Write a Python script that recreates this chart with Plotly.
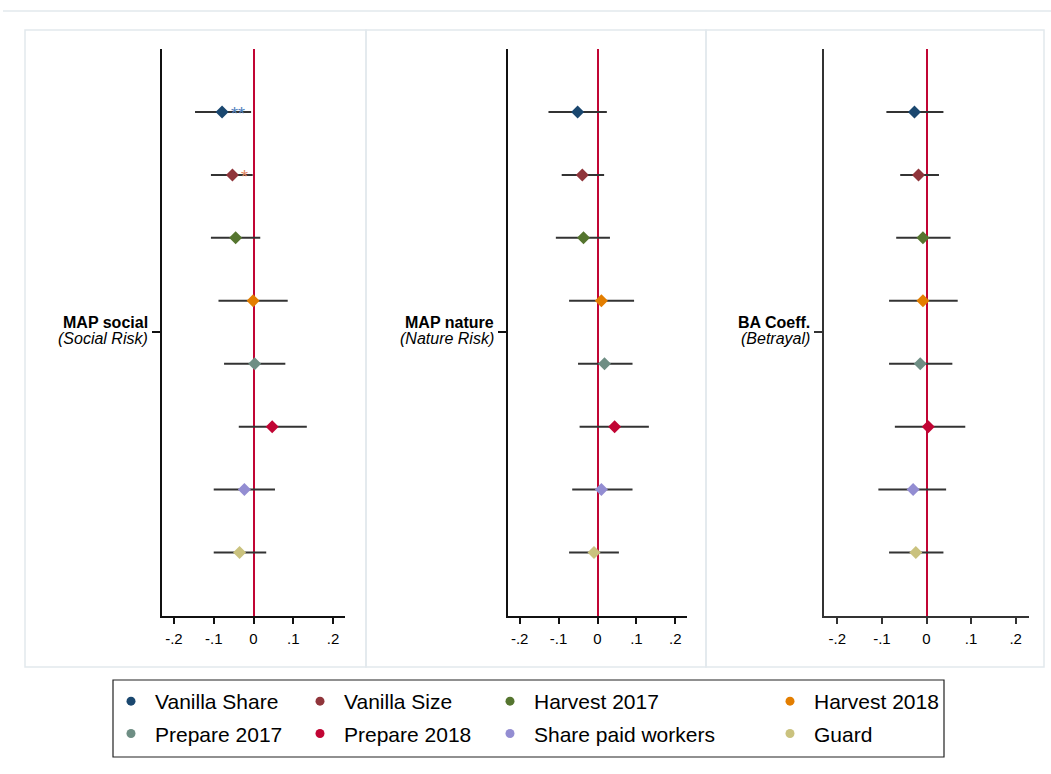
import plotly.graph_objects as go

# Coefficient estimates with 95% confidence bounds, one list per outcome
categories = ["Vanilla Share", "Vanilla Size", "Harvest 2017", "Harvest 2018",
              "Prepare 2017", "Prepare 2018", "Share paid workers", "Guard"]
colors = ["#1a476f", "#90353b", "#55752f", "#e37e00",
          "#6e8e84", "#c10534", "#938dd2", "#cac27e"]
positions = [8, 7, 6, 5, 4, 3, 2, 1]

social_est = [-0.079, -0.053, -0.045, -0.001, 0.003, 0.047, -0.023, -0.035]
social_lo = [-0.147, -0.107, -0.107, -0.088, -0.074, -0.037, -0.100, -0.100]
social_hi = [-0.006, -0.002, 0.017, 0.086, 0.080, 0.134, 0.054, 0.032]
social_stars = ["**", "*", "", "", "", "", "", ""]

nature_est = [-0.051, -0.039, -0.036, 0.010, 0.018, 0.044, 0.010, -0.009]
nature_lo = [-0.126, -0.092, -0.107, -0.073, -0.050, -0.046, -0.065, -0.073]
nature_hi = [0.024, 0.017, 0.032, 0.094, 0.090, 0.132, 0.090, 0.055]

betrayal_est = [-0.027, -0.018, -0.008, -0.008, -0.014, 0.004, -0.030, -0.024]
betrayal_lo = [-0.090, -0.059, -0.068, -0.084, -0.084, -0.071, -0.108, -0.084]
betrayal_hi = [0.038, 0.028, 0.054, 0.070, 0.058, 0.087, 0.044, 0.038]

panel_titles = ["MAP social", "MAP nature", "BA Coeff."]
panel_subtitles = ["(Social Risk)", "(Nature Risk)", "(Betrayal)"]

x_ticks = [-0.2, -0.1, 0, 0.1, 0.2]
x_ticktext = ["-.2", "-.1", "0", ".1", ".2"]

FONT = "Liberation Sans, Arial, sans-serif"
W, H = 1051, 774


def px_x(p):
    return p / W


def px_y(p):
    return 1 - p / H


panels = [
    (social_est, social_lo, social_hi, (162, 345), "#111111"),
    (nature_est, nature_lo, nature_hi, (508, 687), "#111111"),
    (betrayal_est, betrayal_lo, betrayal_hi, (824, 1029), "#333333"),
]

fig = go.Figure()
layout = dict(
    width=W, height=H,
    margin=dict(l=0, r=0, t=0, b=0),
    paper_bgcolor="white", plot_bgcolor="white",
    font=dict(family=FONT, color="black"),
    showlegend=True,
)
annotations = []

for i, (est, lo, hi, (x0, x1), axcol) in enumerate(panels):
    sfx = "" if i == 0 else str(i + 1)
    fig.add_trace(go.Scatter(
        x=est, y=positions, mode="markers",
        marker=dict(symbol="diamond", size=10, color=colors, line=dict(width=0)),
        error_x=dict(type="data", symmetric=False,
                     array=[h - e for h, e in zip(hi, est)],
                     arrayminus=[e - l for e, l in zip(est, lo)],
                     color="#333333", thickness=2, width=0),
        xaxis="x" + sfx, yaxis="y" + sfx, showlegend=False, hoverinfo="skip",
    ))
    layout["xaxis" + sfx] = dict(
        domain=[px_x(x0), px_x(x1)], range=[-0.23, 0.23], anchor="y" + sfx,
        showline=True, linecolor=axcol, linewidth=1.5,
        ticks="outside", ticklen=7, tickwidth=1.5, tickcolor=axcol,
        tickvals=x_ticks, ticktext=x_ticktext, ticklabelstandoff=2,
        tickfont=dict(size=15, family=FONT, color="black"),
        showgrid=False, zeroline=True, zerolinecolor="#c10534", zerolinewidth=1.5,
    )
    layout["yaxis" + sfx] = dict(
        domain=[px_y(615.5), px_y(49)], range=[0, 9], anchor="x" + sfx,
        showline=True, linecolor=axcol, linewidth=1.5,
        ticks="outside", ticklen=8, tickwidth=1.5, tickcolor=axcol,
        tickvals=[4.5], ticktext=[""],
        showgrid=False, zeroline=False,
    )
    # Two-line category label beside the y tick
    annotations.append(dict(
        x=px_x(x0 - 12), y=px_y(322), xref="paper", yref="paper",
        text="<b>" + panel_titles[i] + "</b>", showarrow=False,
        xanchor="right", yanchor="middle",
        font=dict(size=16, family=FONT, color="black")))
    annotations.append(dict(
        x=px_x(x0 - 12), y=px_y(338.5), xref="paper", yref="paper",
        text="<i>" + panel_subtitles[i] + "</i>", showarrow=False,
        xanchor="right", yanchor="middle",
        font=dict(size=16, family=FONT, color="black")))

# Significance stars next to the social-risk estimates
star_colors = ["#4f7fbd", "#e0855f"] + ["#888888"] * 6
for e, p, s, c in zip(social_est, positions, social_stars, star_colors):
    if s:
        annotations.append(dict(x=e, y=p, xref="x", yref="y", text=s, showarrow=False,
                                xanchor="left", yanchor="middle", xshift=7, yshift=-2,
                                font=dict(size=18, family=FONT, color=c)))

# Legend: four columns, two entries each
legend_cols = [[0, 4], [1, 5], [2, 6], [3, 7]]
legend_left = [107, 296, 486, 766]
for k, col in enumerate(legend_cols):
    name = "legend" if k == 0 else "legend" + str(k + 1)
    layout[name] = dict(
        x=px_x(legend_left[k]), y=px_y(681), xanchor="left", yanchor="top",
        orientation="v", bgcolor="rgba(0,0,0,0)", borderwidth=0, itemwidth=38,
        font=dict(size=21, family=FONT, color="black"), tracegroupgap=2,
    )
    for idx in col:
        fig.add_trace(go.Scatter(
            x=[None], y=[None], mode="markers", name=categories[idx],
            marker=dict(symbol="circle", size=9, color=colors[idx]),
            legend=name, legendgroup=categories[idx], showlegend=True,
        ))

frame = "#e2e9ed"
shapes = [
    dict(type="line", xref="paper", yref="paper", x0=px_x(3), x1=1, y0=px_y(11), y1=px_y(11),
         line=dict(color=frame, width=1.5)),
    dict(type="rect", xref="paper", yref="paper", x0=px_x(113), x1=px_x(944),
         y0=px_y(757), y1=px_y(680), line=dict(color="#222222", width=1.2)),
]
for a, b in [(25, 366), (366, 706), (706, 1044)]:
    shapes.append(dict(type="rect", xref="paper", yref="paper", x0=px_x(a), x1=px_x(b),
                       y0=px_y(667), y1=px_y(30), line=dict(color=frame, width=1.5),
                       layer="below"))

layout["shapes"] = shapes
layout["annotations"] = annotations
fig.update_layout(**layout)
fig.write_html("out.html")
